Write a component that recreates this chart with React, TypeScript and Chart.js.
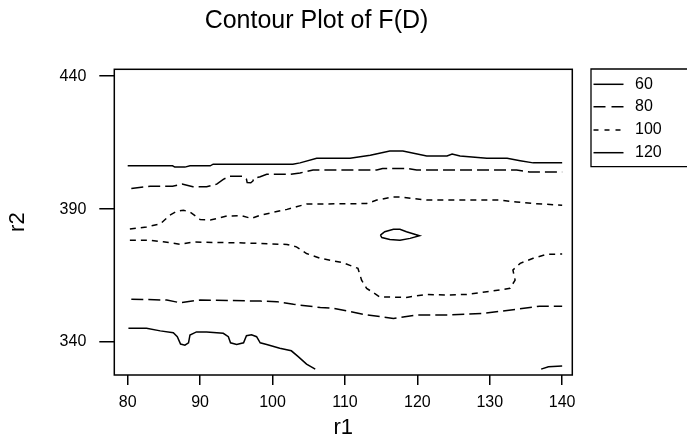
import { useEffect, useRef } from "react";
import { Chart, registerables } from "chart.js";

Chart.register(...registerables);

const TITLE = "Contour Plot of F(D)";
const X_LABEL = "r1";
const Y_LABEL = "r2";
const X_TICKS = [80, 90, 100, 110, 120, 130, 140];
const Y_TICKS = [340, 390, 440];
const LEVEL_LABELS = ["60", "80", "100", "120"];

// F(D) = 60 contour pieces  [r1, r2]
const level60Upper: [number, number][] = [
  [80, 406.3], [86.2, 406.3], [86.5, 405.8], [87.9, 405.8], [88.6, 406.3], [91.4, 406.3],
  [91.8, 406.9], [102.8, 406.9], [103.8, 407.4], [106.1, 409.1], [110.7, 409.1], [113.5, 410.3],
  [116.2, 411.9], [118.0, 411.9], [121.3, 410.0], [124.1, 410.0], [124.8, 410.7], [125.9, 410.0],
  [129.6, 409.1], [132.4, 409.1], [134.2, 408.2], [136.0, 407.4], [140, 407.4],
];
const level60LowerLeft: [number, number][] = [
  [80.1, 345.2], [82.6, 345.2], [84.5, 344.2], [86.3, 343.5], [86.85, 342.0], [87.3, 339.25],
  [87.9, 338.8], [88.4, 339.7], [88.6, 342.6], [89.5, 343.8], [90.9, 343.8], [93.2, 343.3],
  [93.9, 342.0], [94.2, 339.7], [95.05, 339.1], [96.0, 339.7], [96.4, 342.4], [97.1, 342.7],
  [97.8, 342.0], [98.3, 339.7], [99.2, 339.1], [101.0, 337.7], [102.6, 336.7], [103.55, 334.5],
  [104.7, 331.7], [105.9, 329.8],
];
const level60LowerRight: [number, number][] = [[137.1, 329.8], [138.1, 330.7], [140, 331.0]];

// F(D) = 80 contour pieces
const level80Upper: [number, number][] = [
  [80.5, 397.8], [83.1, 398.6], [86.2, 398.6], [87.5, 399.4], [89.0, 398.4], [90.9, 398.4],
  [92.3, 399.4], [93.2, 401.2], [94.1, 402.4], [95.9, 402.4], [96.4, 401.3], [96.5, 400.0],
  [97.0, 399.9], [97.3, 400.6], [97.4, 401.6], [98.3, 402.2], [99.2, 403.1], [102.4, 403.1],
  [103.8, 403.6], [105.6, 404.7], [114.4, 404.7], [115.2, 405.3], [118.6, 405.3], [119.9, 404.7],
  [133.7, 404.7], [135.5, 404.0], [140, 404.0],
];
const level80Lower: [number, number][] = [
  [80.5, 356.1], [85.4, 355.8], [87.2, 354.8], [90.0, 355.8], [98.3, 355.4], [100.6, 355.2],
  [102.9, 354.2], [106.6, 353.0], [108.4, 352.7], [113.0, 350.2], [116.7, 348.9], [119.9, 350.2],
  [124.5, 350.2], [129.1, 350.8], [133.7, 352.3], [136.9, 353.5], [140, 353.5],
];

// F(D) = 100 contour pieces
const level100Upper: [number, number][] = [
  [80.3, 382.5], [82.6, 383.3], [84.5, 384.4], [85.8, 387.7], [86.8, 389.2], [87.7, 389.6],
  [88.6, 388.9], [90.0, 386.1], [91.4, 385.9], [93.7, 387.4], [95.7, 387.5], [97.1, 386.5],
  [98.3, 387.7], [100.1, 388.8], [102.0, 389.9], [103.3, 390.9], [104.7, 391.9], [113.0, 392.1],
  [114.4, 393.4], [116.6, 394.6], [117.6, 394.6], [121.3, 393.4], [131.4, 393.4], [133.7, 392.7],
  [136.0, 392.1], [140, 391.5],
];
const level100Lower: [number, number][] = [
  [80.3, 378.3], [83.1, 378.3], [84.9, 377.7], [87.2, 376.8], [89.1, 377.6], [96.0, 377.3],
  [102.0, 376.7], [103.3, 375.8], [104.7, 373.3], [106.6, 371.5], [109.8, 369.8], [111.8, 367.7],
  [112.3, 363.3], [113.0, 360.2], [114.8, 357.0], [118.5, 356.8], [121.3, 357.9], [124.0, 357.7],
  [126.8, 357.9], [129.6, 358.9], [132.8, 360.2], [133.5, 363.3], [133.2, 367.1], [134.2, 369.6],
  [136.0, 371.5], [137.8, 373.0], [140, 373.1],
];

// F(D) = 120 contour (closed loop)
const level120Loop: [number, number][] = [
  [114.9, 380.2], [115.5, 381.5], [116.7, 382.4], [117.6, 382.4], [118.5, 381.5], [120.3, 380.0],
  [119.0, 379.0], [117.6, 378.3], [116.2, 378.6], [115.1, 379.3], [114.9, 380.2],
];

const FONT = "'Liberation Sans', Arial, Helvetica, sans-serif";
const SOLID: number[] = [];
const LONG_DASH = [12, 5];
const SHORT_DASH = [6, 5];
const LEGEND_DASHES = [SOLID, [12, 6], [5, 6], SOLID];

const toPts = (arr: [number, number][]) => arr.map(([x, y]) => ({ x, y }));

const frameAndText = {
  id: "frameAndText",
  afterDraw(chart: any) {
    const { ctx, chartArea } = chart;
    ctx.save();
    // plot frame
    ctx.strokeStyle = "#000";
    ctx.lineWidth = 1.5;
    ctx.setLineDash([]);
    ctx.strokeRect(chartArea.left, chartArea.top, chartArea.right - chartArea.left, chartArea.bottom - chartArea.top);
    // title
    ctx.fillStyle = "#000";
    ctx.font = `25px ${FONT}`;
    ctx.textAlign = "center";
    ctx.textBaseline = "alphabetic";
    ctx.fillText(TITLE, 316.5, 28);
    // legend (box continues past the right edge of the picture)
    const lx = 591, ly = 69, lb = 166.7;
    ctx.lineWidth = 1.3;
    ctx.beginPath();
    ctx.moveTo(720, ly);
    ctx.lineTo(lx, ly);
    ctx.lineTo(lx, lb);
    ctx.lineTo(720, lb);
    ctx.stroke();
    const rows = [84.3, 106.7, 130, 152.7];
    ctx.font = `16px ${FONT}`;
    ctx.textAlign = "left";
    ctx.textBaseline = "middle";
    ctx.lineWidth = 1.5;
    LEVEL_LABELS.forEach((lab, i) => {
      ctx.setLineDash(LEGEND_DASHES[i]);
      ctx.beginPath();
      ctx.moveTo(593.5, rows[i]);
      ctx.lineTo(623.5, rows[i]);
      ctx.stroke();
      ctx.setLineDash([]);
      ctx.fillText(lab, 635, rows[i]);
    });
    ctx.restore();
  },
};

export default function App() {
  const ref = useRef<HTMLCanvasElement | null>(null);
  useEffect(() => {
    if (!ref.current) return;
    const line = (arr: [number, number][], dash: number[]) => ({
      data: toPts(arr),
      showLine: true,
      borderColor: "#000",
      backgroundColor: "#000",
      borderWidth: 1.5,
      borderDash: dash,
      pointRadius: 0,
      tension: 0,
      fill: false,
    });
    const chart = new Chart(ref.current, {
      type: "scatter",
      data: {
        datasets: [
          line(level60Upper, SOLID),
          line(level60LowerLeft, SOLID),
          line(level60LowerRight, SOLID),
          line(level80Upper, LONG_DASH),
          line(level80Lower, LONG_DASH),
          line(level100Upper, SHORT_DASH),
          line(level100Lower, SHORT_DASH),
          line(level120Loop, SOLID),
        ] as any,
      },
      options: {
        responsive: false,
        animation: false,
        devicePixelRatio: 1,
        layout: { padding: { left: 0, right: 114.7, top: 69.3, bottom: 0 } },
        plugins: { legend: { display: false }, tooltip: { enabled: false }, title: { display: false } },
        scales: {
          x: {
            type: "linear",
            min: 78.15,
            max: 141.4,
            afterBuildTicks: (s: any) => { s.ticks = X_TICKS.map((v) => ({ value: v })); },
            afterFit: (s: any) => { s.height = 61; },
            border: { display: false },
            grid: { drawOnChartArea: false, drawTicks: true, tickLength: 10, color: "#000", lineWidth: 1.5 },
            ticks: { autoSkip: false, maxRotation: 0, color: "#000", padding: 8, font: { family: FONT, size: 16 } },
            title: {
              display: true, text: X_LABEL, color: "#000",
              font: { family: FONT, size: 22, lineHeight: 1 },
              padding: { top: 0, bottom: -3 },
            },
          },
          y: {
            type: "linear",
            min: 327.6,
            max: 442.6,
            afterBuildTicks: (s: any) => { s.ticks = Y_TICKS.map((v) => ({ value: v })); },
            afterFit: (s: any) => { s.width = 114.3; },
            border: { display: false },
            grid: { drawOnChartArea: false, drawTicks: true, tickLength: 15, color: "#000", lineWidth: 1.5 },
            ticks: { autoSkip: false, color: "#000", padding: 13, font: { family: FONT, size: 16 } },
            title: {
              display: true, text: Y_LABEL, color: "#000",
              font: { family: FONT, size: 22, lineHeight: 1 },
              padding: { top: 7, bottom: 0 },
            },
          },
        },
      } as any,
      plugins: [frameAndText],
    });
    return () => chart.destroy();
  }, []);
  return (
    <div style={{ position: "fixed", left: 0, top: 0, width: 687, height: 436, background: "#fff" }}>
      <canvas ref={ref} width={687} height={436} style={{ display: "block", width: 687, height: 436 }} />
    </div>
  );
}
